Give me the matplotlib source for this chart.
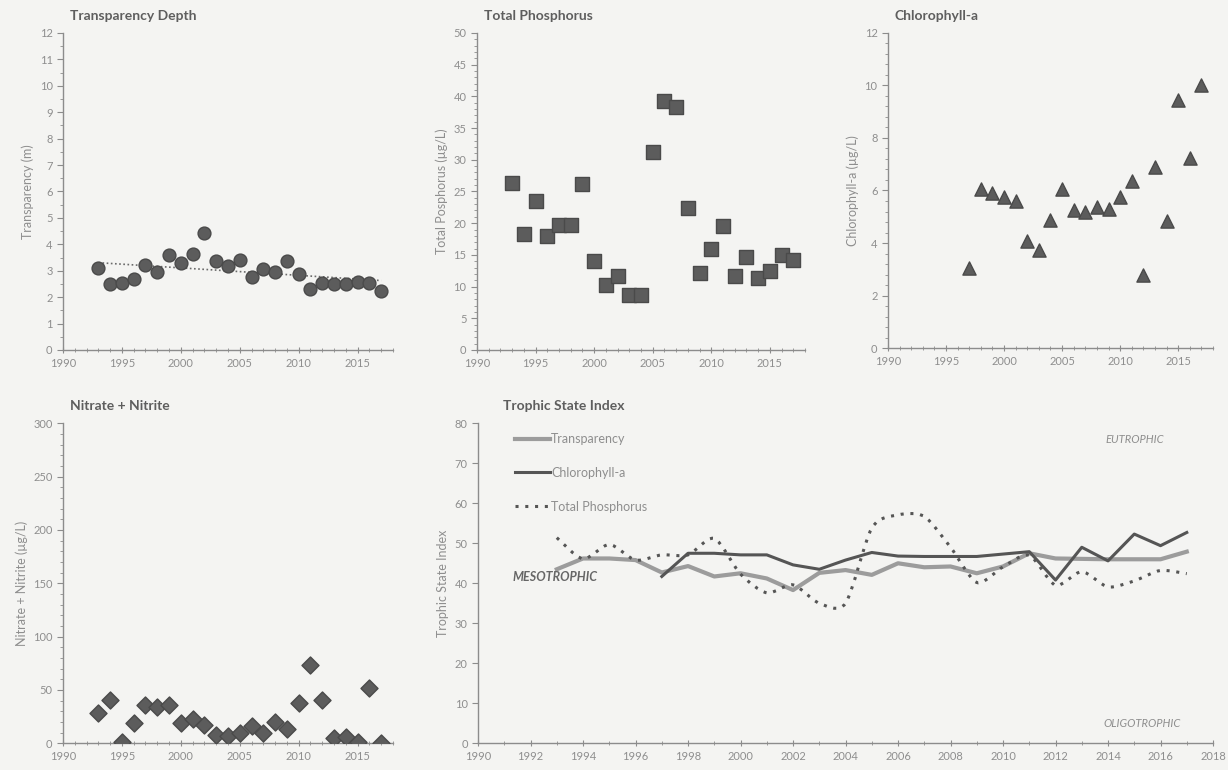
import matplotlib
matplotlib.use("Agg")
import matplotlib.pyplot as plt
import numpy as np
from matplotlib.path import Path
from matplotlib.patches import PathPatch
from matplotlib.lines import Line2D
from matplotlib.ticker import MultipleLocator

plt.rcParams['font.family'] = ['Lato', 'DejaVu Sans']

# ---- data ----
years = list(range(1993, 2018))
years_chl = list(range(1997, 2018))

transparency = [3.1, 2.5, 2.55, 2.7, 3.22, 2.95, 3.6, 3.3, 3.62, 4.42, 3.37, 3.16, 3.41,
                2.78, 3.07, 2.97, 3.38, 2.88, 2.32, 2.55, 2.49, 2.5, 2.56, 2.53, 2.22]
total_p = [26.4, 18.3, 23.5, 17.9, 19.7, 19.7, 26.2, 14.0, 10.2, 11.7, 8.6, 8.6, 31.2,
           39.3, 38.3, 22.4, 12.2, 15.9, 19.5, 11.6, 14.7, 11.3, 12.5, 15.0, 14.2]
chlorophyll = [3.05, 6.07, 5.9, 5.74, 5.59, 4.06, 3.72, 4.89, 6.06, 5.27, 5.2, 5.37, 5.3,
               5.75, 6.35, 2.79, 6.9, 4.83, 9.46, 7.24, 10.03]
nitrate = [28.8, 41.0, 1.5, 18.8, 36.0, 34.4, 36.0, 19.4, 22.5, 17.2, 7.8, 7.2, 9.4,
           16.6, 10.0, 20.3, 13.1, 37.5, 73.4, 40.6, 5.3, 6.3, 0.9, 51.6, 0.0]

tsi_transparency = [43.5, 46.2, 46.2, 45.8, 42.7, 44.3, 41.7, 42.5, 41.2, 38.3, 42.6, 43.3, 42.1,
                    45.0, 44.0, 44.2, 42.5, 44.2, 47.5, 46.2, 46.1, 46.0, 46.0, 46.0, 47.9]
tsi_chlorophyll = [41.7, 47.5, 47.5, 47.1, 47.1, 44.6, 43.5, 45.8, 47.7, 46.8, 46.7, 46.7, 46.7,
                   47.3, 47.9, 40.8, 49.0, 45.6, 52.3, 49.4, 52.7]
tsi_phosphorus = [51.4, 46.1, 49.7, 45.8, 47.1, 47.1, 51.2, 42.3, 37.6, 39.6, 35.0, 35.0, 53.8,
                  57.1, 56.7, 49.0, 40.2, 44.1, 47.0, 39.5, 42.9, 39.1, 40.6, 43.2, 42.4]

BG = '#f4f4f2'
MARK = '#5c5c5c'
AXC = '#8c8c8c'
TXT = '#8e8e8e'
TTL = '#5e5e5e'


def style_axis(ax, ymax, ymajor, yminor, xmajor, ylabel, title, tx=0.02):
    ax.set_facecolor(BG)
    ax.set_xlim(1990, 2018)
    ax.set_ylim(0, ymax)
    for s in ['top', 'right']:
        ax.spines[s].set_visible(False)
    for s in ['left', 'bottom']:
        ax.spines[s].set_color(AXC)
        ax.spines[s].set_linewidth(1.0)
    ax.xaxis.set_major_locator(MultipleLocator(xmajor))
    ax.xaxis.set_minor_locator(MultipleLocator(1))
    ax.yaxis.set_major_locator(MultipleLocator(ymajor))
    ax.yaxis.set_minor_locator(MultipleLocator(yminor))
    ax.tick_params(axis='both', which='major', colors=AXC, labelcolor=TXT, labelsize=8, length=4)
    ax.tick_params(axis='x', which='major', direction='inout', length=4)
    ax.tick_params(axis='x', which='minor', direction='inout', length=3, color=AXC)
    ax.tick_params(axis='y', which='minor', direction='out', length=2, color=AXC)
    ax.set_ylabel(ylabel, color=TXT, fontsize=9, labelpad=4)
    ax.text(tx, 1.035, title, transform=ax.transAxes, color=TTL, fontsize=10,
            fontweight='bold', ha='left', va='bottom')


def smooth_path(x, y, k=0.8):
    # smoothed line like a spreadsheet chart: cubic Bezier through each point
    x = np.asarray(x, float)
    y = np.asarray(y, float)
    verts = [(x[0], y[0])]
    codes = [Path.MOVETO]
    n = len(x)
    for i in range(n - 1):
        p0 = np.array([x[max(i - 1, 0)], y[max(i - 1, 0)]])
        p1 = np.array([x[i], y[i]])
        p2 = np.array([x[i + 1], y[i + 1]])
        p3 = np.array([x[min(i + 2, n - 1)], y[min(i + 2, n - 1)]])
        c1 = p1 + k * (p2 - p0) / 6.0
        c2 = p2 - k * (p3 - p1) / 6.0
        verts += [tuple(c1), tuple(c2), tuple(p2)]
        codes += [Path.CURVE4] * 3
    return Path(verts, codes)


fig = plt.figure(figsize=(12.28, 7.7), dpi=100)
fig.patch.set_facecolor(BG)

ax1 = fig.add_axes([0.0513, 0.5455, 0.2687, 0.4117])
ax2 = fig.add_axes([0.3884, 0.5455, 0.2671, 0.4117])
ax3 = fig.add_axes([0.7231, 0.5480, 0.2647, 0.4092])
ax4 = fig.add_axes([0.0513, 0.0347, 0.2687, 0.4156])
ax5 = fig.add_axes([0.3893, 0.0347, 0.5985, 0.4156])

# Transparency depth
style_axis(ax1, 12, 1, 0.5, 5, 'Transparency (m)', 'Transparency Depth')
ax1.scatter(years, transparency, s=85, color=MARK, edgecolor='#4a4a4a', zorder=3)
coef = np.polyfit(years, transparency, 1)
ax1.plot([years[0], years[-1]], np.polyval(coef, [years[0], years[-1]]),
         linestyle=(0, (1, 1.5)), color='#6a6a6a', linewidth=1.2, zorder=2)

# Total phosphorus
style_axis(ax2, 50, 5, 1, 5, 'Total Posphorus (µg/L)', 'Total Phosphorus')
ax2.scatter(years, total_p, s=115, marker='s', color=MARK, edgecolor='#4a4a4a', zorder=3)

# Chlorophyll-a
style_axis(ax3, 12, 2, 0.4, 5, 'Chlorophyll-a (µg/L)', 'Chlorophyll-a')
ax3.scatter(years_chl, chlorophyll, s=90, marker='^', color=MARK, edgecolor='#4a4a4a', zorder=3)

# Nitrate + Nitrite
style_axis(ax4, 300, 50, 10, 5, 'Nitrate + Nitrite (µg/L)', 'Nitrate + Nitrite')
ax4.scatter(years, nitrate, s=75, marker='D', color=MARK, edgecolor='#4a4a4a', zorder=3)

# Trophic State Index
style_axis(ax5, 80, 10, 10, 2, 'Trophic State Index', 'Trophic State Index', tx=0.034)
ax5.plot(years, tsi_transparency, color='#9c9c9c', linewidth=3.0, zorder=2)
ax5.plot(years_chl, tsi_chlorophyll, color='#555555', linewidth=2.2, zorder=3)
ax5.add_patch(PathPatch(smooth_path(years, tsi_phosphorus), facecolor='none',
                        edgecolor='#555555', linewidth=2.2, linestyle=(0, (1, 2.2)), zorder=4))

handles = [Line2D([], [], color='#9c9c9c', linewidth=3.0),
           Line2D([], [], color='#555555', linewidth=2.2),
           Line2D([], [], color='#555555', linewidth=2.2, linestyle=(0, (1, 2.2)))]
leg = ax5.legend(handles, ['Transparency', 'Chlorophyll-a', 'Total Phosphorus'],
                 loc='upper left', bbox_to_anchor=(0.035, 1.005), frameon=False,
                 handlelength=2.8, handletextpad=0.1, labelspacing=1.75, fontsize=9)
for t in leg.get_texts():
    t.set_color(TXT)

ax5.text(1991.3, 41.5, 'MESOTROPHIC', color='#666666', fontsize=9, fontstyle='italic',
         fontweight='bold', ha='left', va='center')
ax5.text(2015.0, 76.0, 'EUTROPHIC', color=TXT, fontsize=8, fontstyle='italic',
         ha='center', va='center')
ax5.text(2015.3, 5.0, 'OLIGOTROPHIC', color=TXT, fontsize=8, fontstyle='italic',
         ha='center', va='center')

fig.savefig('out.png', dpi=100, facecolor=BG)
